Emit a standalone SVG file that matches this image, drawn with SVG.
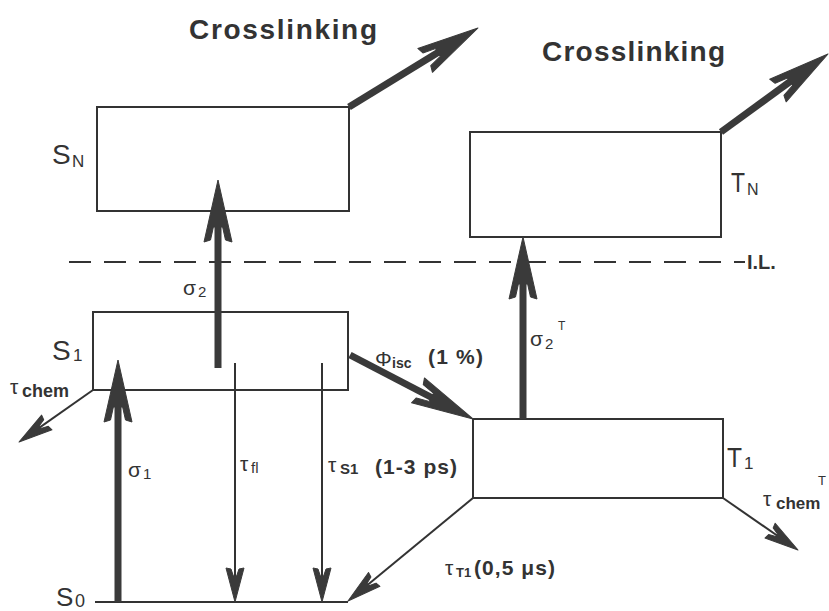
<svg xmlns="http://www.w3.org/2000/svg" xmlns:xlink="http://www.w3.org/1999/xlink" width="829" height="611" viewBox="0 0 829 611">
<defs>
<style>
.box{fill:none;stroke:#333;stroke-width:2}
.lvl{fill:none;stroke:#333;stroke-width:2}
.dash{fill:none;stroke:#333;stroke-width:2;stroke-dasharray:22 13}
.thick{fill:none;stroke:#3a3a3a;stroke-width:7}
.thin{fill:none;stroke:#333;stroke-width:2}
.head{fill:#3a3a3a;stroke:#3a3a3a;stroke-width:1;stroke-linejoin:round}
text{font-family:"Liberation Sans",Arial,sans-serif;fill:#333}
.t{font-size:21px}
.sub{font-size:15px}
.b{font-weight:bold}
.lab{font-size:28px}
</style>
<path id="big" d="M0,0 L-62,-14 L-60,-7.5 L-47,-4.6 L-47,4.6 L-60,7.5 L-62,14 Z"/>
<path id="small" d="M0,0 L-34,-9 L-33,-4 L-26,-1.6 L-26,1.6 L-33,4 L-34,9 Z"/>
</defs>
<rect width="829" height="611" fill="#fff"/>

<g id="SN">
<rect class="box" x="97" y="107" width="252" height="104"/>
<text x="52" y="164" class="lab">S</text><text x="72" y="167" font-size="17">N</text>
</g>
<g id="TN">
<rect class="box" x="470" y="132" width="251" height="105"/>
<text x="731" y="192" class="lab" textLength="14" lengthAdjust="spacingAndGlyphs">T</text><text x="747" y="195" font-size="16">N</text>
</g>
<g id="S1">
<rect class="box" x="93" y="312" width="255" height="78"/>
<text x="52" y="360" class="lab">S</text><text x="73" y="361" font-size="17">1</text>
</g>
<g id="T1">
<rect class="box" x="473" y="419" width="250" height="79"/>
<text x="727" y="467" class="lab" textLength="15" lengthAdjust="spacingAndGlyphs">T</text><text x="744" y="469" font-size="17">1</text>
</g>
<g id="S0">
<line class="lvl" x1="95" y1="602" x2="348" y2="602"/>
<text x="56" y="606" font-size="26">S</text><text x="75" y="607" font-size="18">0</text>
</g>
<g id="IL">
<line class="dash" x1="69" y1="262" x2="745" y2="262"/>
<text x="747" y="269" font-size="20" class="b">I.L.</text>
</g>
<g id="labels">
<text x="189" y="39" font-size="28" class="b" textLength="188" lengthAdjust="spacing">Crosslinking</text>
<text x="542" y="61" font-size="28" class="b" textLength="183" lengthAdjust="spacing">Crosslinking</text>
<text x="10" y="394" class="t">τ</text><text x="22" y="397" font-size="18" class="b">chem</text>
<text x="128" y="477" class="t">σ</text><text x="143" y="479" class="sub">1</text>
<text x="183" y="295" class="t">σ</text><text x="198" y="297" class="sub">2</text>
<text x="240" y="471" class="t">τ</text><text x="251" y="473" class="sub">fl</text>
<text x="328" y="472" class="t">τ</text><text x="340" y="474" class="sub b">S1</text>
<text x="375" y="474" font-size="21" class="b" textLength="82" lengthAdjust="spacing">(1-3 ps)</text>
<text x="375" y="366" class="t">Φ</text><text x="392" y="368" font-size="14" class="b">isc</text>
<text x="428" y="364" font-size="21" class="b" textLength="55" lengthAdjust="spacing">(1 %)</text>
<text x="530" y="346" class="t">σ</text><text x="545" y="349" class="sub">2</text><text x="558" y="330" font-size="12">T</text>
<text x="763" y="506" class="t">τ</text><text x="776" y="509" font-size="17" class="b">chem</text><text x="818" y="485" font-size="13">T</text>
<text x="445" y="575" class="t">τ</text><text x="456" y="577" font-size="13" class="b">T1</text>
<text x="474" y="575" font-size="21" class="b" textLength="81" lengthAdjust="spacing">(0,5 μs)</text>
</g>
<g id="connectors">
<line class="thick" x1="349" y1="107" x2="456.7" y2="41.1"/>
<use xlink:href="#big" href="#big" class="head" transform="translate(478,28) rotate(-31.48)"/>
<line class="thick" x1="721" y1="132" x2="807.8" y2="68.7"/>
<use xlink:href="#big" href="#big" class="head" transform="translate(828,54) rotate(-36.09)"/>
<line class="thick" x1="118" y1="602" x2="118" y2="385"/>
<use xlink:href="#big" href="#big" class="head" transform="translate(118,360) rotate(-90)"/>
<line class="thick" x1="218" y1="368" x2="218" y2="205"/>
<use xlink:href="#big" href="#big" class="head" transform="translate(218,180) rotate(-90)"/>
<line class="thick" x1="523" y1="419" x2="523" y2="262"/>
<use xlink:href="#big" href="#big" class="head" transform="translate(523,237) rotate(-90)"/>
<line class="thick" x1="350" y1="355" x2="450.8" y2="407.5"/>
<use xlink:href="#big" href="#big" class="head" transform="translate(473,419) rotate(27.49)"/>
<line class="thin" x1="235" y1="363" x2="235" y2="587"/>
<use xlink:href="#small" href="#small" class="head" transform="translate(235,602) rotate(90)"/>
<line class="thin" x1="322" y1="363" x2="322" y2="587"/>
<use xlink:href="#small" href="#small" class="head" transform="translate(322,602) rotate(90)"/>
<line class="thin" x1="93" y1="390" x2="31.3" y2="433.4"/>
<use xlink:href="#small" href="#small" class="head" transform="translate(19,442) rotate(144.9)"/>
<line class="thin" x1="473" y1="498" x2="359.6" y2="591.5"/>
<use xlink:href="#small" href="#small" class="head" transform="translate(348,601) rotate(140.51)"/>
<line class="thin" x1="723" y1="498" x2="785.7" y2="541.5"/>
<use xlink:href="#small" href="#small" class="head" transform="translate(798,550) rotate(34.73)"/>
</g>
</svg>
